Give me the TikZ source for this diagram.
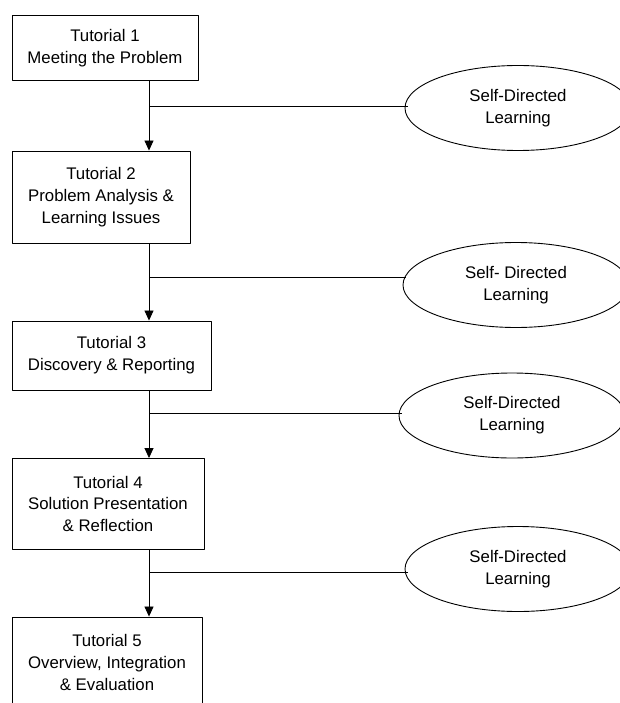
\documentclass[tikz,border=0pt]{standalone}
\usepackage{fontspec}
\setmainfont{Liberation Sans}
\usetikzlibrary{shapes.geometric,arrows.meta}
\begin{document}
\begin{tikzpicture}[>={Triangle[length=10pt,width=9pt]},line join=round,x=1pt,y=-1pt,
	font=\fontsize{16.8}{21.7}\selectfont,
	tut/.style={draw,rectangle,align=center,inner sep=0pt,line width=0.9pt},
	sdl/.style={draw,ellipse,align=center,inner sep=0pt,line width=0.9pt,minimum width=226pt,minimum height=85pt}]
			\def\xv{149}
			\useasboundingbox (0,0) rectangle (620,703);
			\clip (0,0) rectangle (620,703);
			\path
			(\xv,106.5) coordinate (J_1)
			(\xv,277) coordinate (J_2)
			(\xv,413) coordinate (J_3)
			(\xv,572) coordinate (J_4)
			;
			\node[tut,minimum width=186pt,minimum height=65pt] (T_1) at (105,48) {Tutorial 1\\Meeting the Problem};
			\node[tut,minimum width=178pt,minimum height=92pt] (T_2) at (101,197) {Tutorial 2\\Problem Analysis \&\\Learning Issues};
			\node[tut,minimum width=199pt,minimum height=69pt] (T_3) at (111.5,355.5) {Tutorial 3\\Discovery \& Reporting};
			\node[tut,minimum width=192pt,minimum height=90.5pt] (T_4) at (108,503.75) {Tutorial 4\\Solution Presentation\\\& Reflection};
			\node[tut,minimum width=190pt,minimum height=91pt] (T_5) at (107,662.5) {Tutorial 5\\Overview, Integration\\\& Evaluation};
			\node[sdl] (S_1) at (518,108) {Self-Directed\\Learning};
			\node[sdl] (S_2) at (516,285) {Self- Directed\\Learning};
			\node[sdl] (S_3) at (512,415.5) {Self-Directed\\Learning};
			\node[sdl] (S_4) at (518,569) {Self-Directed\\Learning};
			\foreach \a/\b in {1/2,2/3,3/4,4/5}
			{\draw[->,line width=0.8pt] (J_\a |- T_\a.south) -- (J_\a |- T_\b.north);}
			\foreach \a in {1,...,4}
			{\draw[line width=0.8pt] (J_\a) -- ([xshift=3pt]J_\a -| S_\a.west);}
		\end{tikzpicture}
\end{document}
